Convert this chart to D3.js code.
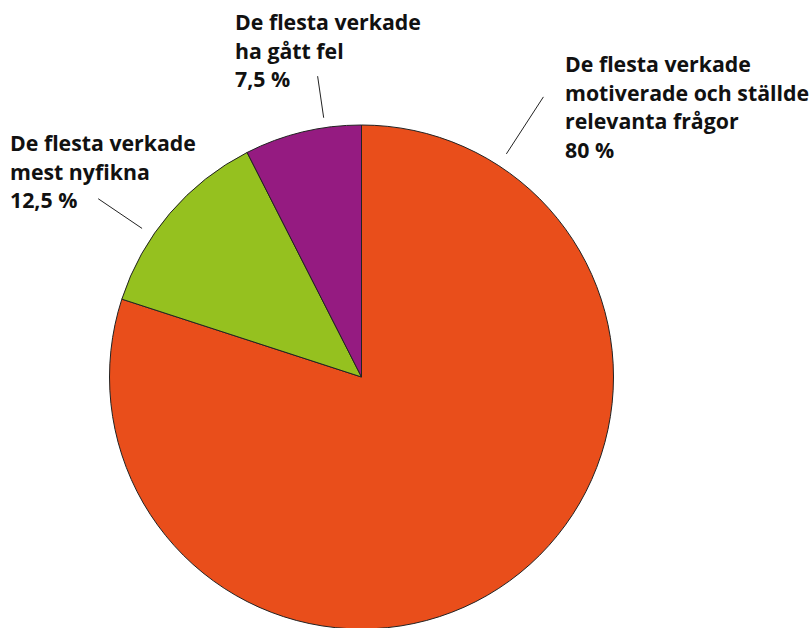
<!DOCTYPE html>
<html>
<head>
<meta charset="utf-8">
<script src="https://cdn.jsdelivr.net/npm/d3@7"></script>
<style>
  html, body { margin: 0; padding: 0; background: #ffffff; }
  svg { display: block; }
  text { font-family: "Open Sans", sans-serif; font-weight: 700; fill: #111111; }
</style>
</head>
<body>
<svg id="chart" width="811" height="628"></svg>
<script>
// ---- data ----
const categories = [
  "De flesta verkade motiverade och ställde relevanta frågor",
  "De flesta verkade mest nyfikna",
  "De flesta verkade ha gått fel"
];
const values = [80, 12.5, 7.5];
const valueLabels = ["80 %", "12,5 %", "7,5 %"];
const labelLines = [
  ["De flesta verkade", "motiverade och ställde", "relevanta frågor"],
  ["De flesta verkade", "mest nyfikna"],
  ["De flesta verkade", "ha gått fel"]
];
const colors = ["#E94E1B", "#95C11F", "#951B81"];

// ---- layout ----
const W = 811, H = 628;
const cx = 361.5, cy = 377, R = 252;
const lineHeight = 28.7;
const labelLayout = [
  { x: 565, y: 72,  leaderAngle: 33.0,  r0: 266, r1: 334 },
  { x: 10,  y: 151, leaderAngle: 304.1, r0: 265, r1: 318 },
  { x: 235, y: 30,  leaderAngle: 351.7, r0: 262, r1: 304 }
];

const svg = d3.select("#chart");
const g = svg.append("g").attr("transform", `translate(${cx},${cy})`);

const pie = d3.pie().sort(null).value(d => d)(values);
const arc = d3.arc().innerRadius(0).outerRadius(R);

g.selectAll("path.slice")
  .data(pie)
  .join("path")
  .attr("class", "slice")
  .attr("d", arc)
  .attr("fill", (d, i) => colors[i])
  .attr("stroke", "#222222")
  .attr("stroke-width", 1)
  .attr("stroke-linejoin", "round");

const rad = a => a * Math.PI / 180;
const polar = (a, r) => [cx + r * Math.sin(rad(a)), cy - r * Math.cos(rad(a))];

// leader lines
labelLayout.forEach((L, i) => {
  const p0 = polar(L.leaderAngle, L.r0);
  const p1 = polar(L.leaderAngle, L.r1);
  svg.append("line")
    .attr("x1", p0[0]).attr("y1", p0[1])
    .attr("x2", p1[0]).attr("y2", p1[1])
    .attr("stroke", "#222222")
    .attr("stroke-width", 1);
});

// labels
labelLayout.forEach((L, i) => {
  const lines = labelLines[i].concat([valueLabels[i]]);
  const t = svg.append("text")
    .attr("x", L.x).attr("y", L.y)
    .attr("font-size", 21.3);
  lines.forEach((s, k) => {
    t.append("tspan")
      .attr("x", L.x)
      .attr("y", L.y + k * lineHeight)
      .text(s);
  });
});
</script>
</body>
</html>
